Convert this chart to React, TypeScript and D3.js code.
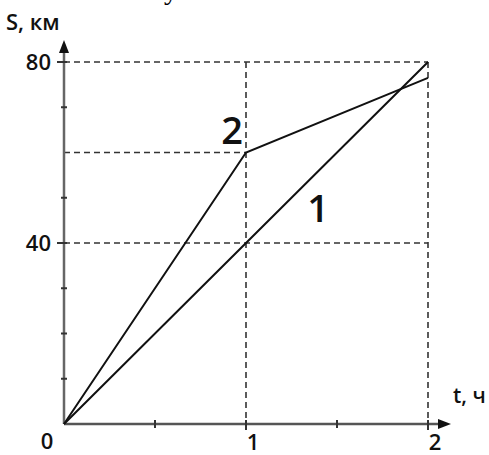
import React from "react";
import * as d3 from "d3";

const tPoints = [0, 1, 2];
const series1 = [0, 40, 80];
const series2 = [0, 60, 76.5];
const yLabelValues = [40, 80];
const xLabelValues = [1, 2];
const yMinorTicks = [10, 20, 30, 50, 70];
const xMinorTicks = [0.5, 1.5];
const seriesLabels = [
  { name: "2", t: 1, s: 60 },
  { name: "1", t: 1, s: 40 },
];
const xAxisTitle = "t, ч";
const yAxisTitle = "S, км";
const topFragment = "у";

const W = 489;
const H = 455;
const FONT = "'Open Sans', 'DejaVu Sans', sans-serif";

export default function App() {
  const x = d3.scaleLinear().domain([0, 2]).range([64, 428]);
  const y = d3.scaleLinear().domain([0, 80]).range([424, 62]);
  const line = d3
    .line<number>()
    .x((_, i) => x(tPoints[i]))
    .y((d) => y(d));

  const x0 = x(0);
  const y0 = y(0);
  const dash = "6,4";
  const dashColor = "#333";

  return (
    <svg
      width={W}
      height={H}
      style={{ position: "absolute", left: 0, top: 0, background: "#fff" }}
    >
      {/* cut-off text fragment at the top */}
      <text x={164} y={-1} fontFamily="'Liberation Serif', serif" fontSize={28} fill="#000">
        {topFragment}
      </text>

      {/* dashed guides */}
      <line x1={x0} x2={x(2)} y1={y(80)} y2={y(80)} stroke={dashColor} strokeWidth={1.6} strokeDasharray={dash} />
      <line x1={x0} x2={x(1)} y1={y(60)} y2={y(60)} stroke={dashColor} strokeWidth={1.6} strokeDasharray={dash} />
      <line x1={x0} x2={x(2)} y1={y(40)} y2={y(40)} stroke={dashColor} strokeWidth={1.6} strokeDasharray={dash} />
      <line x1={x(1)} x2={x(1)} y1={y(80)} y2={y0} stroke={dashColor} strokeWidth={1.6} strokeDasharray={dash} />
      <line x1={x(2)} x2={x(2)} y1={y(80)} y2={y0} stroke={dashColor} strokeWidth={1.6} strokeDasharray={dash} />

      {/* axes */}
      <line x1={x0} x2={x0} y1={y0} y2={50} stroke="#666" strokeWidth={2.5} />
      <path d={`M${x0},40 L${x0 - 5},53 L${x0 + 5},53 Z`} fill="#111" />
      <line x1={x0} x2={440} y1={y0} y2={y0} stroke="#555" strokeWidth={2.5} />
      <path d={`M451,${y0} L438,${y0 - 5} L438,${y0 + 5} Z`} fill="#111" />

      {/* y ticks */}
      {yMinorTicks.map((v) => (
        <line key={"ym" + v} x1={x0 - 3} x2={x0 + 3} y1={y(v)} y2={y(v)} stroke="#333" strokeWidth={2} />
      ))}
      {yLabelValues.map((v) => (
        <line key={"yl" + v} x1={x0 - 7} x2={x0 + 3} y1={y(v)} y2={y(v)} stroke="#333" strokeWidth={2} />
      ))}
      {/* x ticks */}
      {xMinorTicks.map((v) => (
        <line key={"xm" + v} x1={x(v)} x2={x(v)} y1={y0 - 4} y2={y0 + 4} stroke="#333" strokeWidth={2} />
      ))}
      {xLabelValues.map((v) => (
        <line key={"xl" + v} x1={x(v)} x2={x(v)} y1={y0 - 4} y2={y0 + 6} stroke="#333" strokeWidth={2} />
      ))}

      {/* data lines */}
      <path d={line(series1) || ""} fill="none" stroke="#111" strokeWidth={2} />
      <path d={line(series2) || ""} fill="none" stroke="#111" strokeWidth={2} />

      {/* tick labels */}
      {yLabelValues.map((v) => (
        <text key={"ylt" + v} x={51} y={y(v) + 8} textAnchor="end" fontFamily={FONT} fontWeight={600} fontSize={22} fill="#111">
          {v}
        </text>
      ))}
      <text x={47} y={449} textAnchor="middle" fontFamily={FONT} fontWeight={600} fontSize={22} fill="#111">
        0
      </text>
      {xLabelValues.map((v) => (
        <text key={"xlt" + v} x={x(v) + 7} y={450} textAnchor="middle" fontFamily={FONT} fontWeight={600} fontSize={22} fill="#111">
          {v}
        </text>
      ))}

      {/* axis titles */}
      <text x={6} y={30} fontFamily={FONT} fontWeight={600} fontSize={22} fill="#111">
        {yAxisTitle}
      </text>
      <text x={453} y={403} fontFamily={FONT} fontWeight={600} fontSize={21} fill="#111">
        {xAxisTitle}
      </text>

      {/* series labels */}
      <text x={x(seriesLabels[0].t) - 14} y={y(seriesLabels[0].s) - 9} textAnchor="middle" fontFamily={FONT} fontWeight={600} fontSize={38} fill="#111">
        {seriesLabels[0].name}
      </text>
      <text x={x(seriesLabels[1].t) + 72} y={y(seriesLabels[1].s) - 21} textAnchor="middle" fontFamily={FONT} fontWeight={600} fontSize={38} fill="#111">
        {seriesLabels[1].name}
      </text>
    </svg>
  );
}
